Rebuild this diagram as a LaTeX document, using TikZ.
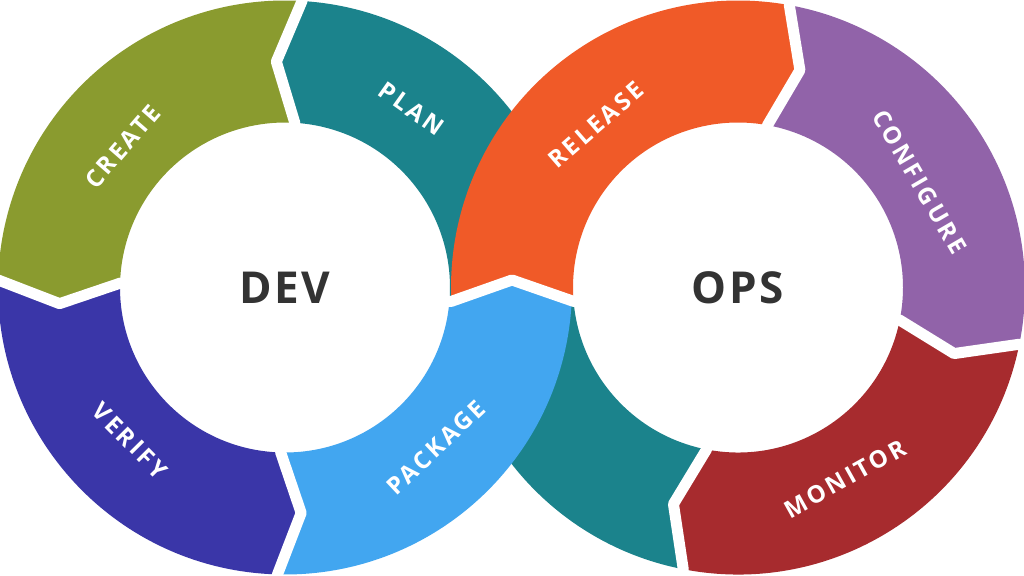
\documentclass[tikz,border=0pt]{standalone}
\usepackage{fontspec}
\setmainfont{Open Sans}
\newfontfamily\labfont[LetterSpace=12]{Open Sans}
\newfontfamily\bigfont[LetterSpace=6]{Open Sans}
\definecolor{cteal}{HTML}{1B838C}
\definecolor{colive}{HTML}{8A9B2F}
\definecolor{cindigo}{HTML}{3A36A8}
\definecolor{csky}{HTML}{42A6F0}
\definecolor{corange}{HTML}{F05A28}
\definecolor{cpurple}{HTML}{9163A9}
\definecolor{cred}{HTML}{A72B2E}
\definecolor{ctext}{HTML}{333333}
\tikzset{
  lab/.style={text=white, font=\labfont\bfseries\fontsize{24}{24}\selectfont, inner sep=0pt},
  big/.style={text=ctext, font=\bigfont\bfseries\fontsize{44}{44}\selectfont, inner sep=0pt},
  gap/.style={draw=white, line width=11pt, line join=round},
}
\begin{document}
\begin{tikzpicture}[x=1pt,y=1pt]
\useasboundingbox[fill=white] (0,0) rectangle (1024,575);
\coordinate (c1) at (285,287.5);
\coordinate (c2) at (738,287.5);
% DEV ring: plan, create, verify
\begin{scope}[shift={(285,287.5)}]
  \fill[cteal] (86.6:287) arc[start angle=86.6,end angle=-2.77,radius=287pt] -- (227,7.5) -- (-4.85:165) arc[start angle=-4.85,end angle=86.6,radius=165pt] -- (92.2:226) -- cycle;
  \fill[colive] (86.6:287) arc[start angle=86.6,end angle=178.5,radius=287pt] -- (184.1:226) -- (178.5:165) arc[start angle=178.5,end angle=86.6,radius=165pt] -- (92.2:226) -- cycle;
  \fill[cindigo] (178.5:287) arc[start angle=178.5,end angle=268.5,radius=287pt] -- (274.1:226) -- (268.5:165) arc[start angle=268.5,end angle=178.5,radius=165pt] -- (184.1:226) -- cycle;
\end{scope}
% OPS ring: configure, monitor, teal
\begin{scope}[shift={(738,287.5)}]
  \fill[cpurple] (79.7:287) arc[start angle=79.7,end angle=-11.4,radius=287pt] -- (-17:226) -- (-11.4:165) arc[start angle=-11.4,end angle=79.7,radius=165pt] -- (74.1:226) -- cycle;
  \fill[cred] (-11.4:287) arc[start angle=-11.4,end angle=-101,radius=287pt] -- (-106.6:226) -- (-101:165) arc[start angle=-101,end angle=-11.4,radius=165pt] -- (-17:226) -- cycle;
  \fill[cteal] (-101:287) arc[start angle=-101,end angle=-177.22,radius=287pt] -- (-226,7.5) -- (-175.17:165) arc[start angle=-175.17,end angle=-101,radius=165pt] -- (-106.6:226) -- cycle;
  \fill[corange] (182.78:287) arc[start angle=182.78,end angle=79.7,radius=287pt] -- (74.1:226) -- (79.7:165) arc[start angle=79.7,end angle=184.83,radius=165pt] -- (-226,7.5) -- cycle;
\end{scope}
\begin{scope}[shift={(285,287.5)}]
  \fill[csky] (268.5:287) arc[start angle=268.5,end angle=357.23,radius=287pt] -- (227,7.5) -- (355.15:165) arc[start angle=355.15,end angle=268.5,radius=165pt] -- (274.1:226) -- cycle;
  \foreach \b in {86.6,178.5,268.5}{
    \draw[gap] (\b:295) -- (\b:287) -- ({\b+5.6}:226) -- (\b:165) -- (\b:157);
  }
\end{scope}
\begin{scope}[shift={(738,287.5)}]
  \foreach \b in {79.7,-11.4,-101}{
    \draw[gap] (\b:295) -- (\b:287) -- ({\b-5.6}:226) -- (\b:165) -- (\b:157);
  }
\end{scope}
\draw[gap] (442,273.6) -- (451.3,273.6) -- (512,295) -- (573.6,273.6) -- (582,273.6);
% labels
\node[lab, rotate=-35.3] (plan) at ([shift={(54.7:219)}]c1) {PLAN};
\node[lab, rotate=49] (create) at ([shift={(139:215)}]c1) {CREATE};
\node[lab, rotate=-45.3] (verify) at ([shift={(224.7:218)}]c1) {VERIFY};
\node[lab, rotate=43.3] (package) at ([shift={(-46.7:220)}]c1) {PACKAGE};
\node[lab, rotate=41.1] (release) at ([shift={(131.1:216)}]c2) {RELEASE};
\node[lab, rotate=-59.8] (configure) at ([shift={(30.2:210)}]c2) {CONFIGURE};
\node[lab, rotate=29.2] (monitor) at ([shift={(-60.8:219)}]c2) {MONITOR};
\node[big] (dev) at (c1) {DEV};
\node[big] (ops) at (c2) {OPS};
\end{tikzpicture}
\end{document}
